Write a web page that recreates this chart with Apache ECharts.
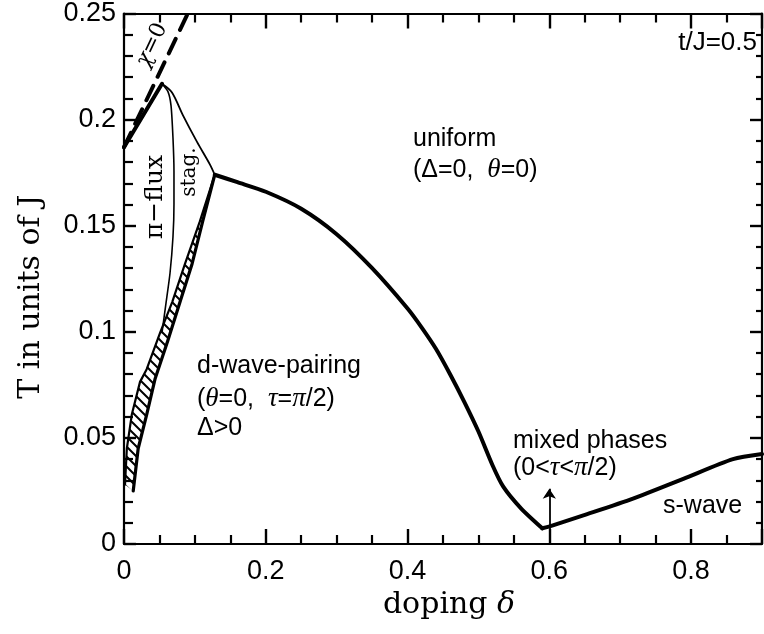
<!DOCTYPE html>
<html><head><meta charset="utf-8">
<script src="https://cdn.jsdelivr.net/npm/echarts@6/dist/echarts.min.js"></script>
<style>html,body{margin:0;padding:0;background:#fff}#c{width:764px;height:634px}</style>
</head><body><div id="c"></div>
<script>
// ---- data ----
const xTickLabels = ['0', '0.2', '0.4', '0.6', '0.8'];
const yTickLabels = ['0', '0.05', '0.1', '0.15', '0.2', '0.25'];

// chi = 0 line (dashed)
const chiX = [0, 0.090];
const chiT = [0.187, 0.25];

// solid boundary rising to the top point
const riseX = [0, 0.0536];
const riseT = [0.187, 0.2169];

// pi-flux / stag. boundary (thin)
const fluxX = [0.0536, 0.062, 0.0663, 0.0691, 0.0705, 0.0705, 0.0691, 0.0649, 0.0593, 0.0536];
const fluxT = [0.2169, 0.2132, 0.2067, 0.1913, 0.1755, 0.1601, 0.1448, 0.1276, 0.1136, 0.0996];

// stag. / uniform boundary
const stagX = [0.0536, 0.0677, 0.0832, 0.1030, 0.1213, 0.128];
const stagT = [0.2169, 0.2128, 0.2020, 0.1895, 0.1788, 0.174];

// hatched band: left edge and right edge (from the junction downwards)
const bandLeftX = [0.128, 0.107, 0.086, 0.068, 0.051, 0.032, 0.0226, 0.011, 0.004, 0.0014];
const bandLeftT = [0.174, 0.152, 0.132, 0.114, 0.0996, 0.0824, 0.0764, 0.061, 0.045, 0.028];
const bandRightX = [0.128, 0.111, 0.096, 0.079, 0.062, 0.044, 0.032, 0.020, 0.013];
const bandRightT = [0.174, 0.152, 0.132, 0.114, 0.096, 0.078, 0.061, 0.045, 0.025];

// uniform / d-wave boundary (thick)
const mainX = [0.128, 0.16, 0.2, 0.25, 0.3, 0.35, 0.4, 0.42, 0.44, 0.46, 0.48, 0.50, 0.52, 0.535, 0.56, 0.59];
const mainT = [0.174, 0.1705, 0.166, 0.158, 0.146, 0.130, 0.111, 0.102, 0.092, 0.080, 0.067, 0.053, 0.037, 0.027, 0.0168, 0.0074];

// s-wave boundary (thick)
const sX = [0.59, 0.605, 0.648, 0.718, 0.789, 0.859, 0.9];
const sT = [0.0074, 0.0088, 0.0135, 0.0214, 0.0307, 0.040, 0.0424];

// arrow for "mixed phases"
const arrowX = [0.6, 0.6];
const arrowT = [0.004, 0.026];

// ---- chart ----
function zip(xs, ys) { return xs.map((x, i) => [x, ys[i]]); }

const pc = document.createElement('canvas');
pc.width = 10; pc.height = 10;
const g = pc.getContext('2d');
g.strokeStyle = '#000'; g.lineWidth = 2;
g.beginPath();
g.moveTo(-2, -2); g.lineTo(12, 12);
g.moveTo(-2, 8); g.lineTo(2, 12);
g.moveTo(8, -2); g.lineTo(12, 2);
g.stroke();
const hatch = { image: pc, repeat: 'repeat' };

const SANS = 'Liberation Sans';
const SERIF = 'DejaVu Serif';

const chart = echarts.init(document.getElementById('c'), null, { renderer: 'canvas' });

function lineSeries(xs, ys, width, type, smooth) {
  return {
    type: 'line', data: zip(xs, ys), showSymbol: false, symbol: 'none',
    silent: true, animation: false, clip: true, smooth: smooth || false,
    lineStyle: { color: '#000', width: width, type: type || 'solid', cap: 'round', join: 'round' }
  };
}

function ticks(len, minorLen, split) {
  return {
    axisTick: { show: true, inside: true, length: len, lineStyle: { color: '#000', width: 2.4 } },
    minorTick: { show: true, splitNumber: split, length: minorLen, lineStyle: { color: '#000', width: 2.2 } }
  };
}

const axisBase = {
  type: 'value',
  axisLine: { show: true, onZero: false, lineStyle: { color: '#000', width: 2.2 } },
  splitLine: { show: false },
  minorSplitLine: { show: false }
};

const option = {
  animation: false,
  backgroundColor: '#fff',
  grid: { left: 124, right: 2, top: 7, bottom: 90, containLabel: false },
  xAxis: [
    Object.assign({}, axisBase, ticks(15, 9, 4), {
      position: 'bottom', min: 0, max: 0.9, interval: 0.2,
      axisLabel: {
        show: true, margin: 14, color: '#000', fontFamily: SANS, fontSize: 27,
        formatter: v => { const i = Math.round(v / 0.2); return (Math.abs(v - i * 0.2) < 1e-9 && xTickLabels[i] !== undefined) ? xTickLabels[i] : ''; },
        showMaxLabel: false
      },
      name: '{a|doping }{b|δ}', nameLocation: 'middle', nameGap: 42,
      nameTextStyle: { color: '#000', fontFamily: SERIF, fontSize: 30, padding: [0, 0, 0, 12],
        rich: { a: { fontFamily: SERIF, fontSize: 30, color: '#000' }, b: { fontFamily: SERIF, fontStyle: 'italic', fontSize: 30, color: '#000' } } }
    }),
    Object.assign({}, axisBase, ticks(15, 9, 4), {
      position: 'top', min: 0, max: 0.9, interval: 0.2,
      axisLabel: { show: false }
    })
  ],
  yAxis: [
    Object.assign({}, axisBase, ticks(12, 9, 5), {
      position: 'left', min: 0, max: 0.25, interval: 0.05,
      axisLabel: {
        show: true, margin: 8, color: '#000', fontFamily: SANS, fontSize: 27,
        formatter: v => { const i = Math.round(v / 0.05); return yTickLabels[i] !== undefined ? yTickLabels[i] : ''; }
      },
      name: 'T in units of J', nameLocation: 'middle', nameGap: 78, nameRotate: 90,
      nameTextStyle: { color: '#000', fontFamily: SERIF, fontSize: 30, padding: [0, 36, 0, 0] }
    }),
    Object.assign({}, axisBase, ticks(12, 6, 5), {
      position: 'right', min: 0, max: 0.25, interval: 0.05,
      axisLabel: { show: false }
    })
  ],
  series: [
    {
      type: 'custom', silent: true, animation: false, clip: true,
      data: [[0, 0]],
      renderItem: function (params, api) {
        const left = bandLeftX.map((x, i) => api.coord([x, bandLeftT[i]]));
        const right = bandRightX.map((x, i) => api.coord([x, bandRightT[i]])).reverse();
        return { type: 'polygon', shape: { points: left.concat(right) }, style: { fill: hatch, stroke: null } };
      }
    },
    lineSeries(bandLeftX, bandLeftT, 2.2),
    lineSeries(bandRightX, bandRightT, 3.2),
    lineSeries(chiX, chiT, 4, [16, 10]),
    lineSeries(riseX, riseT, 4),
    lineSeries(fluxX, fluxT, 1.6, 'solid', 0.2),
    lineSeries(stagX, stagT, 1.8, 'solid', 0.3),
    lineSeries(mainX, mainT, 4, 'solid', 0.25),
    lineSeries(sX, sT, 4, 'solid', 0.25),
    {
      type: 'lines', coordinateSystem: 'cartesian2d', silent: true, animation: false,
      symbol: ['none', 'arrow'], symbolSize: 10,
      lineStyle: { color: '#000', width: 1.8, opacity: 1 },
      data: [{ coords: zip(arrowX, arrowT) }]
    }
  ],
  graphic: [
    { type: 'text', x: 757, y: 43, style: { text: 't/J=0.5', font: '26px "Liberation Sans"', fill: '#000', align: 'right', verticalAlign: 'middle' } },
    { type: 'text', x: 413, y: 139, style: { text: 'uniform', font: '25px "Liberation Sans"', fill: '#000', align: 'left', verticalAlign: 'middle' } },
    { type: 'text', x: 413, y: 170, style: { text: '{a|(Δ=0,  }{i|θ}{a|=0)}', fill: '#000', align: 'left', verticalAlign: 'middle',
        rich: { a: { fontFamily: SANS, fontSize: 25, fill: '#000' }, i: { fontFamily: 'Liberation Serif', fontStyle: 'italic', fontSize: 27, fill: '#000' } } } },
    { type: 'text', x: 197, y: 366, style: { text: 'd-wave-pairing', font: '25px "Liberation Sans"', fill: '#000', align: 'left', verticalAlign: 'middle' } },
    { type: 'text', x: 197, y: 399, style: { text: '{a|(}{i|θ}{a|=0,  }{i|τ}{a|=}{i|π}{a|/2)}', fill: '#000', align: 'left', verticalAlign: 'middle',
        rich: { a: { fontFamily: SANS, fontSize: 25, fill: '#000' }, i: { fontFamily: 'Liberation Serif', fontStyle: 'italic', fontSize: 27, fill: '#000' } } } },
    { type: 'text', x: 197, y: 428, style: { text: 'Δ>0', font: '25px "Liberation Sans"', fill: '#000', align: 'left', verticalAlign: 'middle' } },
    { type: 'text', x: 513, y: 441, style: { text: 'mixed phases', font: '25px "Liberation Sans"', fill: '#000', align: 'left', verticalAlign: 'middle' } },
    { type: 'text', x: 513, y: 468, style: { text: '{a|(0<}{i|τ}{a|<}{i|π}{a|/2)}', fill: '#000', align: 'left', verticalAlign: 'middle',
        rich: { a: { fontFamily: SANS, fontSize: 25, fill: '#000' }, i: { fontFamily: 'Liberation Serif', fontStyle: 'italic', fontSize: 27, fill: '#000' } } } },
    { type: 'text', x: 663, y: 506, style: { text: 's-wave', font: '25px "Liberation Sans"', fill: '#000', align: 'left', verticalAlign: 'middle' } },
    { type: 'text', x: 152, y: 45, rotation: 1.13, style: { text: '{i|χ}{a|=0}', fill: '#000', align: 'center', verticalAlign: 'middle',
        rich: { a: { fontFamily: SERIF, fontSize: 22, fill: '#000' }, i: { fontFamily: SERIF, fontStyle: 'italic', fontSize: 22, fill: '#000' } } } },
    { type: 'text', x: 155, y: 197, rotation: Math.PI / 2, style: { text: 'π−flux', font: '25px "DejaVu Serif"', fill: '#000', align: 'center', verticalAlign: 'middle' } },
    { type: 'text', x: 190, y: 172, rotation: Math.PI / 2, style: { text: 'stag.', font: '20px "DejaVu Serif"', fill: '#000', align: 'center', verticalAlign: 'middle' } }
  ]
};
chart.setOption(option);
</script>
</body></html>
